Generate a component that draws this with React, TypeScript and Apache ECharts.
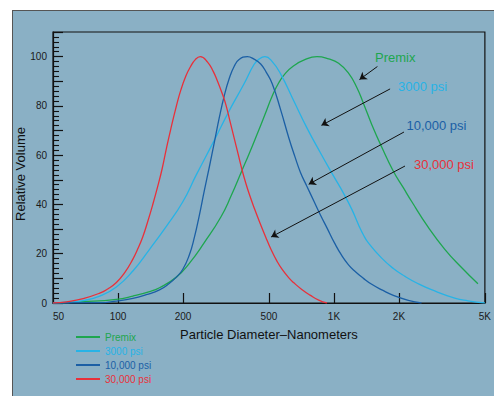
import React, { useEffect, useRef } from 'react';
import * as echarts from 'echarts';

const seriesNames = ['Premix', '3000 psi', '10,000 psi', '30,000 psi'];
const seriesColors = ['#1ea64f', '#27b3e6', '#1b5fa5', '#e8303a'];

const premix: [number, number][] = [
  [50, 0], [69, 0.5], [98.3, 1.5], [117.2, 2.8], [140, 4.6], [155.6, 6.2], [185.8, 10.4],
  [213.9, 16.1], [250.9, 24.5], [299.5, 34.9], [334.1, 43.5], [374.2, 53.6], [404.4, 60.5],
  [441.6, 68.7], [479.2, 76.5], [517.8, 84], [556, 89.5], [597, 93.3], [651.9, 96.3],
  [724.8, 98.6], [834.6, 100], [945.1, 99.1], [1051, 97.3], [1168, 93.3], [1276, 87.5],
  [1370, 81], [1496, 72.5], [1664, 63.3], [1884, 53.5], [2095, 46.8], [2287, 41.3],
  [2731, 30.8], [3261, 21.8], [3888, 14.5], [4642, 7.8],
];

const psi3000: [number, number][] = [
  [50, 0], [57.8, 0.2], [69, 1], [82.3, 2.8], [98.3, 6.5], [117.2, 13], [140, 21.8],
  [167.1, 31], [199.3, 41], [230.4, 52], [279, 66], [327.1, 78], [383.5, 89], [426.4, 96.8],
  [449.7, 99], [479.2, 100], [517.8, 98], [566.1, 93], [651.9, 82], [750.6, 71], [865.3, 61],
  [996.5, 51.5], [1108, 44.5], [1210, 38], [1299, 31.8], [1370, 27.6], [1444, 24.4], [1664, 18.2],
  [1884, 14], [2133, 10.8], [2456, 7.8], [2828, 5.4], [3625, 2], [4174, 0.9], [5000, 0],
];

const psi10000: [number, number][] = [
  [50, 0], [82.3, 0.1], [98.3, 0.8], [117.2, 1.9], [135.2, 3.4], [155.6, 5.3], [173.1, 8],
  [185.8, 10.4], [199.3, 13.6], [213.9, 19.5], [225.6, 26.5], [237.9, 35.5], [250.9, 45.5],
  [264.5, 55], [279, 65], [294.1, 75], [310.2, 84], [327.1, 91], [344.9, 96], [363.7, 98.8],
  [397.2, 100], [426.4, 99], [457.9, 97], [486.9, 93.5], [517.8, 89], [566.1, 78.5],
  [618.2, 67], [658.9, 59.5], [699.8, 53], [748.3, 47.5], [805.9, 41.5], [868.1, 35.5],
  [928.2, 30.5], [1007, 24.3], [1088, 19.2], [1168, 15.5], [1254, 12.8], [1370, 10], [1496, 7.6],
  [1677, 5.2], [1884, 3.1], [2209, 1.1], [2543, 0],
];

const psi30000: [number, number][] = [
  [50, 0], [57.8, 0.5], [69, 1.8], [82.3, 4], [89.6, 5.7], [98.3, 8.3], [107.4, 12.3],
  [117.2, 17.8], [123.2, 21.8], [130.3, 26.9], [137, 32.8], [144.9, 40], [152.4, 47],
  [160.1, 54.5], [167.6, 62.8], [174.9, 70], [185.8, 79.5], [195.5, 86.5], [206.6, 92.3],
  [216.2, 95.8], [228, 98.8], [240.4, 100], [259.8, 97.8], [276, 94], [288.9, 90],
  [304.6, 84.7], [315.8, 80.5], [330.6, 73.5], [344.9, 67], [359.8, 60.5], [375.4, 54],
  [391.7, 48.3], [408.7, 43.3], [426.4, 38.8], [449.7, 33.5], [482.8, 26.8], [510.7, 21.8],
  [546.1, 16.8], [575.8, 13.6], [618.2, 10.2], [651.9, 8.2], [709.6, 5.5], [778.2, 3.1],
  [849.8, 1.2], [928.2, 0],
];

const xTickValues = [100, 200, 500, 1000, 2000, 5000];
const xLabelValues = [50, 100, 200, 500, 1000, 2000, 5000];
const xLabelTexts = ['50', '100', '200', '500', '1K', '2K', '5K'];

const arrowFrom: [number, number][] = [[1590, 96], [1820, 86.9], [2110, 69.4], [2133, 55.6]];
const arrowTo: [number, number][] = [[1313, 90.7], [875, 72.1], [764, 48.2], [512, 26.8]];

const FONT = '"Liberation Sans", Arial, Helvetica, sans-serif';

export default function App() {
  const ref = useRef<HTMLDivElement>(null);
  useEffect(() => {
    document.body.style.overflow = 'hidden';
    const chart = echarts.init(ref.current!, undefined, { renderer: 'svg' });
    const allData = [premix, psi3000, psi10000, psi30000];
    const option: any = {
      animation: false,
      backgroundColor: '#8ab0c5',
      textStyle: { fontFamily: FONT },
      grid: {
        show: true,
        left: 40,
        top: 21,
        width: 434,
        height: 271,
        borderColor: '#111',
        borderWidth: 1.2,
        backgroundColor: 'transparent',
      },
      legend: {
        orient: 'vertical',
        left: 63,
        top: 319,
        padding: 0,
        icon: 'rect',
        itemWidth: 24,
        itemHeight: 2,
        itemGap: 0,
        textStyle: { fontSize: 10, lineHeight: 14, fontFamily: FONT },
        data: seriesNames.map((n, i) => ({ name: n, textStyle: { color: seriesColors[i] } })),
      },
      xAxis: {
        type: 'log',
        logBase: 10,
        min: 50,
        max: 5000,
        name: 'Particle Diameter\u2013Nanometers',
        nameLocation: 'middle',
        nameGap: 25,
        nameTextStyle: { fontSize: 13, color: '#111', fontFamily: FONT },
        axisLine: { lineStyle: { color: '#111', width: 1.2 } },
        axisTick: { show: true, inside: true, length: 10, customValues: xTickValues, lineStyle: { color: '#111', width: 1.2 } },
        axisLabel: {
          customValues: xLabelValues,
          fontSize: 10,
          color: '#1a1a1a',
          margin: 8,
          alignMinLabel: 'left',
          formatter: (v: number) => {
            const idx = xLabelValues.findIndex((x) => Math.abs(x - v) < 1e-6 * x);
            return idx >= 0 ? xLabelTexts[idx] : '';
          },
        },
        splitLine: { show: false },
        minorTick: { show: false },
      },
      yAxis: {
        type: 'value',
        min: 0,
        max: 110,
        interval: 10,
        axisLine: { show: true, lineStyle: { color: '#111', width: 1.2 } },
        axisTick: { show: true, inside: true, length: 10, lineStyle: { color: '#111', width: 1.2 } },
        minorTick: { show: true, splitNumber: 5, length: 6, lineStyle: { color: '#111', width: 1.1 } },
        axisLabel: {
          fontSize: 10,
          color: '#1a1a1a',
          margin: 6,
          formatter: (v: number) => (v % 20 === 0 && v <= 100 ? String(v) : ''),
        },
        splitLine: { show: false },
      },
      series: [
        ...seriesNames.map((n, i) => ({
          type: 'line',
          name: n,
          data: allData[i],
          symbol: 'none',
          smooth: 0.5,
          color: seriesColors[i],
          lineStyle: { width: 1.3, color: seriesColors[i] },
        })),
        {
          type: 'line',
          name: 'arrows',
          data: [],
          silent: true,
          markLine: {
            silent: true,
            symbol: ['none', 'arrow'],
            symbolSize: 7,
            lineStyle: { color: '#111', width: 1, type: 'solid' },
            label: { show: false },
            emphasis: { disabled: true },
            data: arrowFrom.map((f, i) => [{ coord: f }, { coord: arrowTo[i] }]),
          },
        },
      ],
      graphic: [
        {
          type: 'text',
          x: 7,
          y: 163,
          rotation: Math.PI / 2,
          style: { text: 'Relative Volume', fill: '#111', fontSize: 13, fontFamily: FONT, align: 'center', verticalAlign: 'middle' },
        },
        { type: 'text', x: 362, y: 46.5, style: { text: 'Premix', fill: seriesColors[0], fontSize: 13, fontFamily: FONT, align: 'left', verticalAlign: 'middle' } },
        { type: 'text', x: 385, y: 75.7, style: { text: '3000 psi', fill: seriesColors[1], fontSize: 13, fontFamily: FONT, align: 'left', verticalAlign: 'middle' } },
        { type: 'text', x: 393.5, y: 114, style: { text: '10,000 psi', fill: seriesColors[2], fontSize: 13, fontFamily: FONT, align: 'left', verticalAlign: 'middle' } },
        { type: 'text', x: 401, y: 153, style: { text: '30,000 psi', fill: seriesColors[3], fontSize: 13, fontFamily: FONT, align: 'left', verticalAlign: 'middle' } },
      ],
    };
    chart.setOption(option);
    return () => chart.dispose();
  }, []);
  return (
    <div
      style={{
        position: 'absolute',
        left: 12,
        top: 10,
        borderLeft: '1px solid #555',
        borderTop: '1px solid #555',
        background: '#8ab0c5',
      }}
    >
      <div ref={ref} style={{ width: 481, height: 385 }} />
    </div>
  );
}
